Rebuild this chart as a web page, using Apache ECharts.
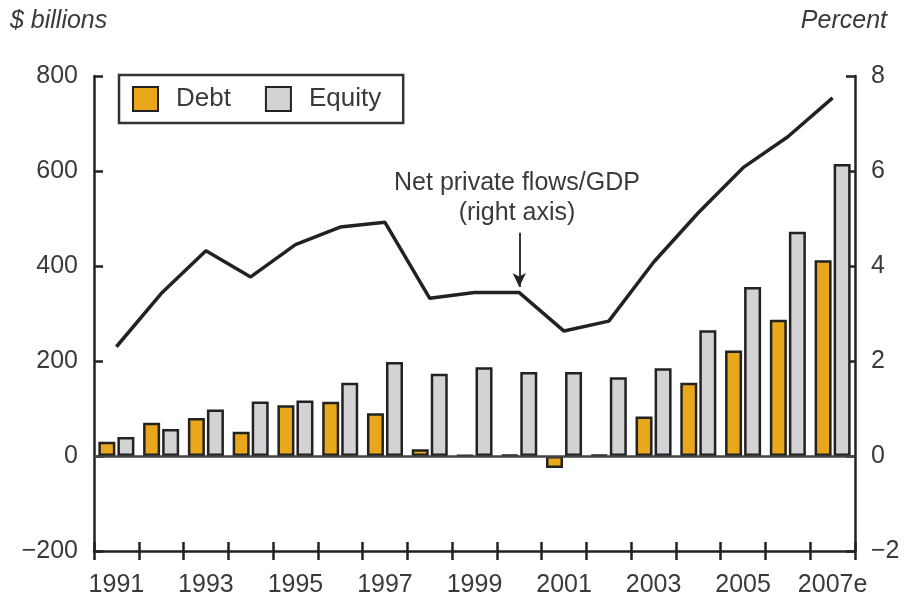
<!DOCTYPE html>
<html>
<head>
<meta charset="utf-8">
<script src="https://cdn.jsdelivr.net/npm/echarts@6/dist/echarts.min.js"></script>
<style>
  html, body { margin: 0; padding: 0; background: #fff; }
  #chart { width: 909px; height: 598px; }
</style>
</head>
<body>
<div id="chart"></div>
<script>
const years = ['1991', '1992', '1993', '1994', '1995', '1996', '1997', '1998', '1999',
  '2000', '2001', '2002', '2003', '2004', '2005', '2006', '2007e']
const debt = [30, 70, 80, 51, 107, 114, 90, 14, 1, 2, -25, 2, 83, 154, 222, 287, 412]
const equity = [40, 57, 98, 115, 117, 154, 198, 173, 187, 177, 177, 166, 185, 265, 356, 472, 615]
const flowsPct = [2.3, 3.42, 4.32, 3.77, 4.45, 4.82, 4.92, 3.32, 3.44, 3.44, 2.63, 2.84, 4.08, 5.12, 6.07, 6.72, 7.54]

const font = '"Liberation Sans", Arial, sans-serif'
const ink = '#222'
const txt = '#3a3a3a'
const minus = v => String(v).replace('-', '\u2212')

const chart = echarts.init(document.getElementById('chart'))

chart.setOption({
  animation: false,
  textStyle: { fontFamily: font },
  grid: { left: 94, right: 54, top: 76, bottom: 45 },
  legend: {
    left: 119,
    top: 75,
    padding: [11, 22, 11, 13],
    itemGap: 34,
    itemWidth: 25,
    itemHeight: 24,
    borderColor: '#333',
    borderWidth: 2.5,
    textStyle: { fontSize: 26, color: txt, fontFamily: font, padding: [0, 0, 0, 13] },
    data: [
      { name: 'Debt', icon: 'rect' },
      { name: 'Equity', icon: 'rect' },
    ],
  },
  graphic: [
    {
      type: 'text', left: 10, top: 9,
      style: { text: '$ billions', font: 'italic 25px ' + font, fill: txt },
    },
    {
      type: 'text', right: 22, top: 9,
      style: { text: 'Percent', font: 'italic 25px ' + font, fill: txt },
    },
    {
      type: 'text', x: 517, y: 198,
      style: {
        text: 'Net private flows/GDP\n(right axis)', font: '25px ' + font,
        fill: txt, align: 'center', verticalAlign: 'middle', lineHeight: 30,
      },
    },
  ],
  xAxis: [
    {
      type: 'category',
      data: years,
      position: 'bottom',
      axisLine: { onZero: false, lineStyle: { color: ink, width: 2.5 } },
      axisTick: { show: true, interval: 0, length: 9, lineStyle: { color: ink, width: 2.5 } },
      axisLabel: { interval: 1, fontSize: 25, color: txt, margin: 22 },
    },
    {
      type: 'category',
      data: years,
      position: 'bottom',
      axisLine: { show: false, onZero: false },
      axisTick: { show: true, interval: 0, inside: true, length: 9, lineStyle: { color: ink, width: 2.5 } },
      axisLabel: { show: false },
    },
  ],
  yAxis: [
    {
      type: 'value',
      min: -200, max: 800, interval: 200,
      splitLine: { show: false },
      axisLine: { show: true, lineStyle: { color: ink, width: 2.5 } },
      axisTick: { show: true, inside: true, length: 9, lineStyle: { color: ink, width: 2.5 } },
      axisLabel: { fontSize: 25, color: txt, margin: 16, formatter: minus },
    },
    {
      type: 'value',
      min: -2, max: 8, interval: 2,
      position: 'right',
      splitLine: { show: false },
      axisLine: { show: true, lineStyle: { color: ink, width: 2.5 } },
      axisTick: { show: true, inside: true, length: 9, lineStyle: { color: ink, width: 2.5 } },
      axisLabel: { fontSize: 25, color: txt, margin: 16, formatter: minus },
    },
  ],
  series: [
    {
      name: 'Debt',
      type: 'bar',
      data: debt,
      barWidth: 17,
      barGap: '12%',
      itemStyle: { color: '#E9A81C', borderColor: ink, borderWidth: 2.5 },
      markLine: {
        silent: true,
        symbol: 'none',
        label: { show: false },
        lineStyle: { color: '#444', width: 2.5, type: 'solid' },
        data: [{ yAxis: 0 }],
      },
    },
    {
      name: 'Equity',
      type: 'bar',
      data: equity,
      barWidth: 17,
      itemStyle: { color: '#D3D3D6', borderColor: ink, borderWidth: 2.5 },
    },
    {
      name: 'Net private flows/GDP',
      type: 'line',
      yAxisIndex: 1,
      data: flowsPct,
      symbol: 'none',
      lineStyle: { color: ink, width: 3.5 },
      markLine: {
        silent: true,
        symbol: ['none', 'arrow'],
        symbolSize: [10, 14],
        label: { show: false },
        lineStyle: { color: ink, width: 1.8, type: 'solid' },
        data: [[{ coord: ['2000', 4.7] }, { coord: ['2000', 3.56] }]],
      },
    },
  ],
})
</script>
</body>
</html>
